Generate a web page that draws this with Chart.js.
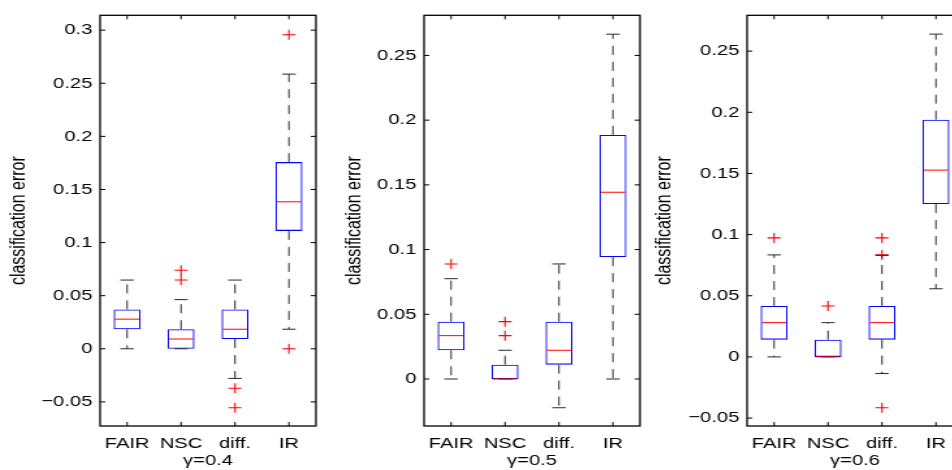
<!DOCTYPE html>
<html>
<head>
<meta charset="utf-8">
<script src="https://cdn.jsdelivr.net/npm/chart.js@4.4.1/dist/chart.umd.min.js"></script>
<style>
  html, body { margin: 0; padding: 0; background: #fff; overflow: hidden; }
  body { width: 952px; height: 470px; position: relative; }
  .panel { position: absolute; top: 0; transform: scaleX(1.3); transform-origin: 0 0; }
  .panel canvas { display: block; }
</style>
</head>
<body>
<div class="panel" id="p1"><canvas id="c1" width="255" height="470"></canvas></div>
<div class="panel" id="p2"><canvas id="c2" width="255" height="470"></canvas></div>
<div class="panel" id="p3"><canvas id="c3" width="255" height="470"></canvas></div>
<script>
// categories and panel labels
var categories = ['FAIR', 'NSC', 'diff.', 'IR'];
var gammaLabels = ['\u03b3=0.4', '\u03b3=0.5', '\u03b3=0.6'];

// gamma = 0.4
var low04  = [0, 0, -0.0279, 0.0184];
var q1_04  = [0.0184, 0, 0.0092, 0.111];
var med04  = [0.0279, 0.0092, 0.0184, 0.1384];
var q3_04  = [0.0371, 0.0184, 0.0371, 0.1758];
var high04 = [0.0647, 0.0463, 0.0647, 0.2586];
var outCat04 = ['NSC', 'NSC', 'diff.', 'diff.', 'IR', 'IR'];
var outVal04 = [0.0739, 0.0647, -0.0371, -0.0555, 0.2957, 0];

// gamma = 0.5
var low05  = [0, 0, -0.0222, 0];
var q1_05  = [0.0222, 0, 0.0111, 0.0942];
var med05  = [0.0335, 0, 0.0222, 0.1443];
var q3_05  = [0.0443, 0.0111, 0.0443, 0.1886];
var high05 = [0.0775, 0.0222, 0.0889, 0.2664];
var outCat05 = ['FAIR', 'NSC', 'NSC'];
var outVal05 = [0.0889, 0.0443, 0.0335];

// gamma = 0.6
var low06  = [0, 0, -0.0136, 0.0557];
var q1_06  = [0.0141, 0, 0.0141, 0.125];
var med06  = [0.028, 0, 0.028, 0.1527];
var q3_06  = [0.0416, 0.0141, 0.0416, 0.194];
var high06 = [0.0834, 0.028, 0.083, 0.2639];
var outCat06 = ['FAIR', 'NSC', 'diff.', 'diff.', 'diff.'];
var outVal06 = [0.0973, 0.0416, 0.0973, 0.0834, -0.0416];

// y ranges of the three panels
var yMin = [-0.0727, -0.0363, -0.0565];
var yMax = [0.314, 0.281, 0.2793];

var FONT = "'Liberation Sans', Arial, Helvetica, sans-serif";
var STRETCH = 1.3;
var YAXIS_W = 77;

// whiskers, caps, medians, frame and inward ticks
var boxExtras = {
    id: 'boxExtras',
    afterDatasetsDraw: function (chart, args, opts) {
        var ctx = chart.ctx;
        var x = chart.scales.x, y = chart.scales.y;
        var bars = chart.getDatasetMeta(0).data;
        ctx.save();
        for (var i = 0; i < opts.low.length; i++) {
            var cx = x.getPixelForValue(i);
            var half = bars[i].width / 2;
            var cap = half / 2;
            var yLo = y.getPixelForValue(opts.low[i]);
            var yHi = y.getPixelForValue(opts.high[i]);
            var yQ1 = y.getPixelForValue(opts.q1[i]);
            var yQ3 = y.getPixelForValue(opts.q3[i]);
            var yMed = y.getPixelForValue(opts.med[i]);

            ctx.strokeStyle = '#2a2a2a';
            ctx.lineWidth = 1;
            ctx.setLineDash([9, 7]);
            ctx.beginPath();
            if (yHi < yQ3) { ctx.moveTo(cx, yQ3); ctx.lineTo(cx, yHi); }
            if (yLo > yQ1) { ctx.moveTo(cx, yQ1); ctx.lineTo(cx, yLo); }
            ctx.stroke();
            ctx.setLineDash([]);

            ctx.beginPath();
            ctx.moveTo(cx - cap, yHi); ctx.lineTo(cx + cap, yHi);
            ctx.moveTo(cx - cap, yLo); ctx.lineTo(cx + cap, yLo);
            ctx.stroke();

            ctx.strokeStyle = '#ff0000';
            ctx.beginPath();
            ctx.moveTo(cx - half + 1, yMed); ctx.lineTo(cx + half - 1, yMed);
            ctx.stroke();
        }

        // frame
        var a = chart.chartArea;
        ctx.strokeStyle = '#000';
        ctx.lineWidth = 1.3;
        ctx.strokeRect(a.left, a.top, a.right - a.left, a.bottom - a.top);

        // inward ticks
        ctx.lineWidth = 1;
        ctx.beginPath();
        y.ticks.forEach(function (t, k) {
            var py = y.getPixelForTick(k);
            ctx.moveTo(a.left, py); ctx.lineTo(a.left + 4, py);
            ctx.moveTo(a.right, py); ctx.lineTo(a.right - 4, py);
        });
        x.ticks.forEach(function (t, k) {
            var px = x.getPixelForTick(k);
            ctx.moveTo(px, a.bottom); ctx.lineTo(px, a.bottom - 4);
            ctx.moveTo(px, a.top); ctx.lineTo(px, a.top + 4);
        });
        ctx.stroke();
        ctx.restore();
    }
};

var makePanel = function (canvasId, panelId, axesLeft, titlePad, k, low, q1, med, q3, high, outCat, outVal) {
    var panel = document.getElementById(panelId);
    panel.style.left = (axesLeft - STRETCH * YAXIS_W) + 'px';

    var boxData = [];
    for (var i = 0; i < q1.length; i++) {
        boxData.push([q1[i], q3[i]]);
    }
    var outData = [];
    for (var j = 0; j < outCat.length; j++) {
        outData.push({ x: outCat[j], y: outVal[j] });
    }

    new Chart(document.getElementById(canvasId), {
        type: 'bar',
        data: {
            labels: categories,
            datasets: [
                {
                    label: 'box',
                    data: boxData,
                    backgroundColor: 'rgba(255,255,255,0)',
                    borderColor: '#0000ff',
                    borderWidth: 1.1,
                    borderSkipped: false,
                    barPercentage: 0.5,
                    categoryPercentage: 1
                },
                {
                    type: 'scatter',
                    label: 'outliers',
                    data: outData,
                    pointStyle: 'cross',
                    pointRadius: 5,
                    borderColor: '#ff0000',
                    borderWidth: 1.1
                }
            ]
        },
        options: {
            responsive: false,
            animation: false,
            layout: { padding: { top: 6, right: 12, left: 0, bottom: 0 } },
            plugins: {
                legend: { display: false },
                tooltip: { enabled: false },
                boxExtras: { low: low, q1: q1, med: med, q3: q3, high: high }
            },
            scales: {
                x: {
                    type: 'category',
                    offset: true,
                    grid: { display: false, drawTicks: false, tickLength: 0 },
                    border: { display: false },
                    ticks: { color: '#000', font: { family: FONT, size: 15.5 }, padding: 8, maxRotation: 0, autoSkip: false },
                    title: { display: true, text: gammaLabels[k], color: '#000', font: { family: FONT, size: 15.5 }, padding: { top: 0, bottom: 0 } },
                    afterFit: function (s) { s.height = 44; }
                },
                y: {
                    min: yMin[k],
                    max: yMax[k],
                    grid: { display: false, drawTicks: false, tickLength: 0 },
                    border: { display: false },
                    ticks: {
                        stepSize: 0.05,
                        includeBounds: false,
                        color: '#000',
                        font: { family: FONT, size: 15.5 },
                        padding: 6,
                        callback: function (v) {
                            var r = Math.round(v * 100) / 100;
                            if (r === 0) return '0';
                            return r < 0 ? '\u2212' + String(-r) : String(r);
                        }
                    },
                    title: { display: true, text: 'classification error', color: '#000', font: { family: FONT, size: 16 }, padding: { top: titlePad, bottom: 0 } },
                    afterFit: function (s) { s.width = YAXIS_W; }
                }
            }
        },
        plugins: [boxExtras]
    });
};

makePanel('c1', 'p1', 100, 5, 0, low04, q1_04, med04, q3_04, high04, outCat04, outVal04);
makePanel('c2', 'p2', 423.7, 13.8, 1, low05, q1_05, med05, q3_05, high05, outCat05, outVal05);
makePanel('c3', 'p3', 747, 4.3, 2, low06, q1_06, med06, q3_06, high06, outCat06, outVal06);
</script>
</body>
</html>
